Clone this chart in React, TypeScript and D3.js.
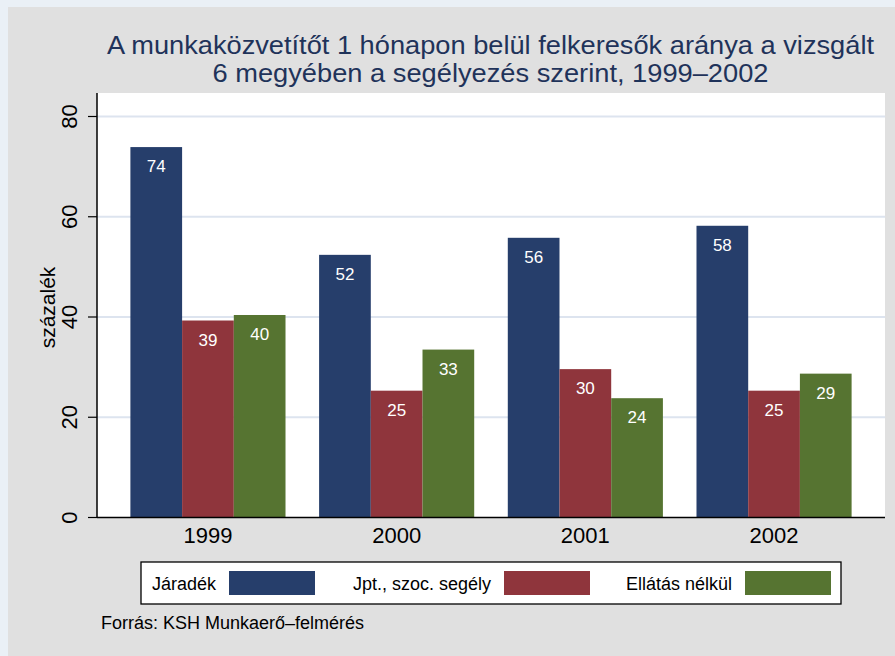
import React, { useEffect, useRef } from 'react';
import * as d3 from 'd3';

const years = ['1999', '2000', '2001', '2002'];
const seriesNames = ['Járadék', 'Jpt., szoc. segély', 'Ellátás nélkül'];
const jaradek = [73.9, 52.4, 55.8, 58.2];
const szocSegely = [39.3, 25.3, 29.6, 25.3];
const ellatasNelkul = [40.4, 33.5, 23.8, 28.7];
const barLabels = [
  ['74', '52', '56', '58'],
  ['39', '25', '30', '25'],
  ['40', '33', '24', '29'],
];
const yTicks = [0, 20, 40, 60, 80];
const colors = ['#263e6b', '#8f353c', '#567431'];
const titleLines = [
  'A munkaközvetítőt 1 hónapon belül felkeresők aránya a vizsgált',
  '6 megyében a segélyezés szerint, 1999–2002',
];

const App = () => {
  const ref = useRef<SVGSVGElement>(null);

  useEffect(() => {
    const W = 895;
    const H = 656;
    const font = "'Liberation Sans', Arial, sans-serif";
    const svg = d3.select(ref.current);
    svg.selectAll('*').remove();

    // fondok
    svg.append('rect').attr('width', W).attr('height', H).attr('fill', '#eaf0f6');
    svg.append('rect').attr('x', 8).attr('y', 7).attr('width', W - 8).attr('height', H - 7).attr('fill', '#e0e0e0');

    const plot = { left: 97, right: 885, top: 93, bottom: 518 };
    svg.append('rect')
      .attr('x', plot.left).attr('y', plot.top)
      .attr('width', plot.right - plot.left).attr('height', plot.bottom - plot.top)
      .attr('fill', '#ffffff');

    const yScale = d3.scaleLinear().domain([0, 80]).range([517.5, 116.5]);
    const x0 = d3.scaleBand().domain(years).range([plot.left, plot.right])
      .paddingInner(0.178).paddingOuter(0.177);
    const x1 = d3.scaleBand().domain(seriesNames).range([0, x0.bandwidth()]);

    // rács
    svg.append('g').selectAll('line').data(yTicks.filter((d) => d > 0)).join('line')
      .attr('x1', plot.left).attr('x2', plot.right)
      .attr('y1', (d) => yScale(d)).attr('y2', (d) => yScale(d))
      .attr('stroke', '#dde4ef').attr('stroke-width', 2);

    // oszlopok
    const series = [jaradek, szocSegely, ellatasNelkul];
    series.forEach((vals, si) => {
      const g = svg.append('g');
      g.selectAll('rect').data(vals).join('rect')
        .attr('x', (d, i) => (x0(years[i]) as number) + (x1(seriesNames[si]) as number))
        .attr('y', (d) => yScale(d))
        .attr('width', x1.bandwidth())
        .attr('height', (d) => yScale(0) - yScale(d))
        .attr('fill', colors[si]);
      g.selectAll('text').data(vals).join('text')
        .attr('x', (d, i) => (x0(years[i]) as number) + (x1(seriesNames[si]) as number) + x1.bandwidth() / 2)
        .attr('y', (d) => yScale(d) + 25)
        .attr('text-anchor', 'middle')
        .attr('fill', '#ffffff')
        .style('font-family', font)
        .style('font-size', '17px')
        .text((d, i) => barLabels[si][i]);
    });

    // tengelyek
    svg.append('line')
      .attr('x1', plot.left).attr('x2', plot.left)
      .attr('y1', plot.top).attr('y2', plot.bottom)
      .attr('stroke', '#000').attr('stroke-width', 1.5);
    svg.append('line')
      .attr('x1', plot.left).attr('x2', plot.right)
      .attr('y1', yScale(0)).attr('y2', yScale(0))
      .attr('stroke', '#000').attr('stroke-width', 1.5);

    const yt = svg.append('g');
    yt.selectAll('line').data(yTicks).join('line')
      .attr('x1', plot.left - 9).attr('x2', plot.left)
      .attr('y1', (d) => yScale(d)).attr('y2', (d) => yScale(d))
      .attr('stroke', '#000').attr('stroke-width', 1.2);
    yt.selectAll('text').data(yTicks).join('text')
      .attr('transform', (d) => `translate(77,${yScale(d)}) rotate(-90)`)
      .attr('text-anchor', 'middle')
      .attr('fill', '#000')
      .style('font-family', font)
      .style('font-size', '22px')
      .text((d) => d);

    svg.append('text')
      .attr('transform', `translate(55,${(plot.top + plot.bottom) / 2 + 2}) rotate(-90)`)
      .attr('text-anchor', 'middle')
      .attr('fill', '#000')
      .style('font-family', font)
      .style('font-size', '21px')
      .text('százalék');

    svg.append('g').selectAll('text').data(years).join('text')
      .attr('x', (d) => (x0(d) as number) + x0.bandwidth() / 2)
      .attr('y', 543)
      .attr('text-anchor', 'middle')
      .attr('fill', '#000')
      .style('font-family', font)
      .style('font-size', '22px')
      .text((d) => d);

    // cím
    const titleWidths = [767, 556];
    svg.append('g').selectAll('text').data(titleLines).join('text')
      .attr('x', 490.5)
      .attr('y', (d, i) => 54 + i * 27.5)
      .attr('text-anchor', 'middle')
      .attr('textLength', (d, i) => titleWidths[i])
      .attr('lengthAdjust', 'spacingAndGlyphs')
      .attr('fill', '#1f335a')
      .style('font-family', font)
      .style('font-size', '25px')
      .text((d) => d);

    // jelmagyarázat
    svg.append('rect')
      .attr('x', 141).attr('y', 562).attr('width', 700).attr('height', 42)
      .attr('fill', '#ffffff').attr('stroke', '#000').attr('stroke-width', 1.3);
    const legendTextEnd = [216, 491, 732];
    const legendSwatch = [229, 504, 745];
    seriesNames.forEach((name, i) => {
      svg.append('text')
        .attr('x', legendTextEnd[i]).attr('y', 590)
        .attr('text-anchor', 'end')
        .attr('fill', '#000')
        .style('font-family', font)
        .style('font-size', '18px')
        .text(name);
      svg.append('rect')
        .attr('x', legendSwatch[i]).attr('y', 571)
        .attr('width', 86).attr('height', 24)
        .attr('fill', colors[i]);
    });

    svg.append('text')
      .attr('x', 101).attr('y', 629)
      .attr('fill', '#000')
      .style('font-family', font)
      .style('font-size', '18px')
      .text('Forrás: KSH Munkaerő–felmérés');
  }, []);

  return (
    <svg
      ref={ref}
      width={895}
      height={656}
      style={{ position: 'absolute', left: 0, top: 0, display: 'block' }}
    />
  );
};

export default App;
